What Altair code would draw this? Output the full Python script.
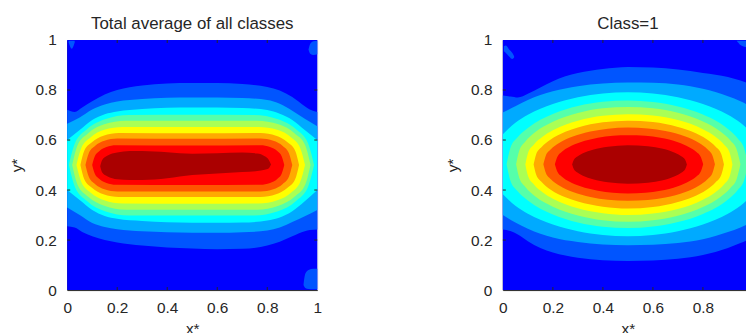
import altair as alt
import pandas as pd

FONT = "Liberation Sans"
TEXT = "#262626"
LEVEL_COLORS = ["#0000FF", "#0055FF", "#00AAFF", "#00FFFF", "#55FFAA", "#AAFF55",
                "#FFFF00", "#FFAA00", "#FF5500", "#FF0000", "#AA0000"]
TICK_VALUES = [0, 0.2, 0.4, 0.6, 0.8, 1]
INNER_TICKS = [0.2, 0.4, 0.6, 0.8]
TITLES = ["Total average of all classes", "Class=1"]

# ---------------- panel 1 : contour band boundaries (x*, upper y*, lower y*) ----------------
p1_L0_x = [0, 1]
p1_L0_top = [1, 1]
p1_L0_bot = [0, 0]

p1_L1_x = [0, 0.03, 0.06, 0.1, 0.15, 0.2, 0.3, 0.4, 0.5, 0.6, 0.7, 0.8, 0.85, 0.9, 0.95, 0.97, 1.0]
p1_L1_top = [0.721, 0.712, 0.73, 0.755, 0.782, 0.8, 0.818, 0.826, 0.828, 0.828, 0.824, 0.812, 0.798, 0.772, 0.735, 0.722, 0.712]
p1_L1_bot = [0.255, 0.25, 0.232, 0.215, 0.2, 0.19, 0.178, 0.17, 0.166, 0.163, 0.165, 0.178, 0.193, 0.215, 0.235, 0.24, 0.242]

p1_L2_x = [0, 0.05, 0.1, 0.15, 0.2, 0.3, 0.4, 0.5, 0.6, 0.7, 0.8, 0.85, 0.9, 0.95, 1.0]
p1_L2_top = [0.665, 0.69, 0.722, 0.742, 0.754, 0.764, 0.769, 0.77, 0.77, 0.768, 0.76, 0.745, 0.717, 0.685, 0.655]
p1_L2_bot = [0.33, 0.3, 0.268, 0.252, 0.243, 0.235, 0.231, 0.229, 0.229, 0.231, 0.238, 0.25, 0.272, 0.295, 0.32]

p1_L3_x = [0, 0.05, 0.1, 0.15, 0.2, 0.3, 0.4, 0.5, 0.6, 0.7, 0.8, 0.85, 0.9, 0.95, 1.0]
p1_L3_top = [0.6, 0.64, 0.68, 0.703, 0.714, 0.724, 0.729, 0.73, 0.73, 0.728, 0.72, 0.705, 0.68, 0.64, 0.6]
p1_L3_bot = [0.4, 0.36, 0.32, 0.296, 0.285, 0.276, 0.271, 0.269, 0.269, 0.27, 0.278, 0.29, 0.315, 0.355, 0.4]

p1_L4_x = [0.007, 0.031, 0.079, 0.151, 0.247, 0.5, 0.747, 0.843, 0.915, 0.963, 0.987]
p1_L4_top = [0.5, 0.587, 0.643, 0.683, 0.7, 0.701, 0.7, 0.683, 0.643, 0.587, 0.5]
p1_L4_bot = [0.5, 0.412, 0.356, 0.315, 0.298, 0.298, 0.298, 0.315, 0.356, 0.412, 0.5]

p1_L5_x = [0.02, 0.041, 0.084, 0.148, 0.234, 0.5, 0.759, 0.845, 0.909, 0.952, 0.973]
p1_L5_top = [0.5, 0.578, 0.627, 0.663, 0.677, 0.677, 0.677, 0.663, 0.627, 0.578, 0.5]
p1_L5_bot = [0.5, 0.422, 0.373, 0.337, 0.321, 0.321, 0.321, 0.337, 0.373, 0.422, 0.5]

p1_L6_x = [0.037, 0.056, 0.093, 0.148, 0.222, 0.5, 0.766, 0.84, 0.896, 0.932, 0.951]
p1_L6_top = [0.5, 0.567, 0.61, 0.641, 0.652, 0.652, 0.652, 0.641, 0.61, 0.567, 0.5]
p1_L6_bot = [0.5, 0.433, 0.39, 0.359, 0.346, 0.345, 0.346, 0.359, 0.39, 0.433, 0.5]

p1_L7_x = [0.053, 0.068, 0.099, 0.145, 0.207, 0.5, 0.773, 0.835, 0.881, 0.912, 0.927]
p1_L7_top = [0.5, 0.556, 0.591, 0.617, 0.628, 0.627, 0.628, 0.617, 0.591, 0.556, 0.5]
p1_L7_bot = [0.5, 0.444, 0.409, 0.383, 0.372, 0.372, 0.372, 0.383, 0.409, 0.444, 0.5]

p1_L8_x = [0.073, 0.086, 0.111, 0.149, 0.2, 0.5, 0.773, 0.824, 0.862, 0.887, 0.9]
p1_L8_top = [0.5, 0.546, 0.576, 0.597, 0.606, 0.605, 0.606, 0.597, 0.576, 0.546, 0.5]
p1_L8_bot = [0.5, 0.454, 0.424, 0.403, 0.394, 0.394, 0.394, 0.403, 0.424, 0.454, 0.5]

p1_L9_x = [0.1, 0.11, 0.129, 0.157, 0.195, 0.5, 0.773, 0.811, 0.84, 0.858, 0.868]
p1_L9_top = [0.5, 0.534, 0.556, 0.572, 0.579, 0.578, 0.579, 0.572, 0.556, 0.534, 0.5]
p1_L9_bot = [0.5, 0.466, 0.444, 0.428, 0.421, 0.42, 0.421, 0.428, 0.444, 0.466, 0.5]

p1_L10_x = [0.132, 0.14, 0.16, 0.2, 0.25, 0.3, 0.4, 0.5, 0.6, 0.7, 0.76, 0.79, 0.805, 0.815]
p1_L10_top = [0.495, 0.52, 0.537, 0.55, 0.556, 0.556, 0.551, 0.545, 0.547, 0.55, 0.546, 0.535, 0.522, 0.502]
p1_L10_bot = [0.495, 0.47, 0.455, 0.443, 0.44, 0.44, 0.447, 0.46, 0.466, 0.472, 0.476, 0.481, 0.486, 0.502]

# small level-1 islands near the corners
p1_B1_x = [0.965, 0.972, 0.985, 1.0]
p1_B1_top = [0.962, 0.985, 0.995, 0.997]
p1_B1_bot = [0.962, 0.945, 0.94, 0.943]
p1_B2_x = [0.945, 0.952, 0.965, 0.985, 1.0]
p1_B2_top = [0.02, 0.065, 0.08, 0.085, 0.085]
p1_B2_bot = [0.02, 0.008, 0.004, 0.003, 0.003]
p1_B3_x = [0.006, 0.018, 0.03]
p1_B3_top = [0.997, 0.997, 0.997]
p1_B3_bot = [0.99, 0.965, 0.99]

# ---------------- panel 2 ----------------
p2_L0_x = [0, 1]
p2_L0_top = [1, 1]
p2_L0_bot = [0, 0]

p2_L1_x = [0, 0.03, 0.06, 0.1, 0.15, 0.2, 0.25, 0.3, 0.4, 0.5, 0.6, 0.7, 0.8, 0.9, 0.95, 1.0]
p2_L1_top = [0.778, 0.774, 0.77, 0.785, 0.81, 0.835, 0.855, 0.868, 0.884, 0.892, 0.89, 0.882, 0.868, 0.852, 0.838, 0.82]
p2_L1_bot = [0.242, 0.236, 0.222, 0.195, 0.168, 0.15, 0.138, 0.129, 0.119, 0.116, 0.118, 0.125, 0.14, 0.168, 0.188, 0.21]

p2_L2_x = [0, 0.05, 0.1, 0.15, 0.2, 0.3, 0.4, 0.5, 0.6, 0.7, 0.8, 0.9, 0.95, 1.0]
p2_L2_top = [0.71, 0.735, 0.76, 0.78, 0.795, 0.815, 0.826, 0.83, 0.829, 0.822, 0.805, 0.775, 0.755, 0.73]
p2_L2_bot = [0.3, 0.27, 0.245, 0.225, 0.21, 0.192, 0.182, 0.179, 0.181, 0.188, 0.203, 0.232, 0.25, 0.275]

p2_L3_x = [0, 0.05, 0.1, 0.2, 0.3, 0.4, 0.5, 0.6, 0.7, 0.8, 0.9, 0.95, 1.0]
p2_L3_top = [0.623, 0.669, 0.701, 0.744, 0.771, 0.786, 0.791, 0.786, 0.771, 0.744, 0.701, 0.669, 0.623]
p2_L3_bot = [0.383, 0.337, 0.305, 0.262, 0.235, 0.22, 0.215, 0.22, 0.235, 0.262, 0.305, 0.337, 0.383]

p2_L4_x = [0.015, 0.03, 0.06, 0.1, 0.2, 0.3, 0.4, 0.5, 0.6, 0.7, 0.8, 0.9, 0.94, 0.965, 0.98]
p2_L4_top = [0.503, 0.568, 0.612, 0.648, 0.704, 0.736, 0.753, 0.758, 0.752, 0.734, 0.702, 0.644, 0.605, 0.566, 0.503]
p2_L4_bot = [0.503, 0.438, 0.394, 0.358, 0.302, 0.27, 0.253, 0.248, 0.254, 0.272, 0.304, 0.362, 0.401, 0.44, 0.503]

p2_L5_x = [0.053, 0.065, 0.09, 0.13, 0.2, 0.3, 0.4, 0.5, 0.6, 0.7, 0.8, 0.87, 0.91, 0.935, 0.95]
p2_L5_top = [0.503, 0.556, 0.594, 0.632, 0.673, 0.708, 0.727, 0.732, 0.727, 0.709, 0.674, 0.634, 0.598, 0.562, 0.503]
p2_L5_bot = [0.503, 0.45, 0.412, 0.374, 0.333, 0.298, 0.279, 0.273, 0.279, 0.297, 0.332, 0.372, 0.408, 0.444, 0.503]

p2_L6_x = [0.09, 0.1, 0.125, 0.16, 0.2, 0.3, 0.4, 0.5, 0.6, 0.7, 0.8, 0.85, 0.885, 0.908, 0.918]
p2_L6_top = [0.502, 0.546, 0.583, 0.614, 0.639, 0.677, 0.697, 0.703, 0.698, 0.68, 0.643, 0.613, 0.581, 0.546, 0.502]
p2_L6_bot = [0.502, 0.458, 0.421, 0.39, 0.365, 0.327, 0.307, 0.3, 0.306, 0.324, 0.361, 0.391, 0.423, 0.458, 0.502]

p2_L7_x = [0.123, 0.133, 0.155, 0.19, 0.25, 0.3, 0.4, 0.5, 0.6, 0.7, 0.76, 0.815, 0.85, 0.874, 0.884]
p2_L7_top = [0.502, 0.542, 0.572, 0.601, 0.633, 0.65, 0.671, 0.677, 0.672, 0.652, 0.632, 0.603, 0.574, 0.542, 0.502]
p2_L7_bot = [0.502, 0.462, 0.432, 0.402, 0.371, 0.354, 0.333, 0.326, 0.332, 0.352, 0.372, 0.401, 0.43, 0.462, 0.502]

p2_L8_x = [0.162, 0.172, 0.192, 0.225, 0.28, 0.35, 0.42, 0.5, 0.58, 0.65, 0.73, 0.785, 0.818, 0.838, 0.848]
p2_L8_top = [0.503, 0.538, 0.563, 0.588, 0.614, 0.634, 0.645, 0.65, 0.646, 0.636, 0.614, 0.588, 0.563, 0.538, 0.503]
p2_L8_bot = [0.503, 0.468, 0.443, 0.418, 0.392, 0.372, 0.361, 0.357, 0.36, 0.37, 0.392, 0.418, 0.443, 0.468, 0.503]

p2_L9_x = [0.208, 0.217, 0.235, 0.265, 0.31, 0.38, 0.44, 0.5, 0.57, 0.63, 0.7, 0.745, 0.774, 0.792, 0.801]
p2_L9_top = [0.503, 0.531, 0.552, 0.572, 0.591, 0.609, 0.617, 0.619, 0.617, 0.609, 0.591, 0.571, 0.552, 0.531, 0.503]
p2_L9_bot = [0.503, 0.475, 0.454, 0.434, 0.415, 0.397, 0.389, 0.386, 0.389, 0.397, 0.415, 0.435, 0.454, 0.475, 0.503]

p2_L10_x = [0.277, 0.284, 0.298, 0.32, 0.36, 0.42, 0.5, 0.58, 0.64, 0.69, 0.715, 0.729, 0.736]
p2_L10_top = [0.502, 0.521, 0.534, 0.547, 0.561, 0.573, 0.579, 0.575, 0.565, 0.548, 0.534, 0.521, 0.502]
p2_L10_bot = [0.502, 0.483, 0.47, 0.457, 0.443, 0.431, 0.425, 0.429, 0.439, 0.456, 0.47, 0.483, 0.502]

p2_B1_x = [0.004, 0.012, 0.025, 0.038, 0.045]
p2_B1_top = [0.975, 0.978, 0.962, 0.948, 0.935]
p2_B1_bot = [0.955, 0.948, 0.934, 0.924, 0.93]
p2_B2_x = [0.935, 0.95, 0.97, 1.0]
p2_B2_top = [0.997, 0.997, 0.997, 0.997]
p2_B2_bot = [0.997, 0.98, 0.972, 0.968]

P1_PIECES = [
    (0, p1_L0_x, p1_L0_top, p1_L0_bot),
    (1, p1_B1_x, p1_B1_top, p1_B1_bot),
    (1, p1_B2_x, p1_B2_top, p1_B2_bot),
    (1, p1_B3_x, p1_B3_top, p1_B3_bot),
    (1, p1_L1_x, p1_L1_top, p1_L1_bot),
    (2, p1_L2_x, p1_L2_top, p1_L2_bot),
    (3, p1_L3_x, p1_L3_top, p1_L3_bot),
    (4, p1_L4_x, p1_L4_top, p1_L4_bot),
    (5, p1_L5_x, p1_L5_top, p1_L5_bot),
    (6, p1_L6_x, p1_L6_top, p1_L6_bot),
    (7, p1_L7_x, p1_L7_top, p1_L7_bot),
    (8, p1_L8_x, p1_L8_top, p1_L8_bot),
    (9, p1_L9_x, p1_L9_top, p1_L9_bot),
    (10, p1_L10_x, p1_L10_top, p1_L10_bot),
]
P2_PIECES = [
    (0, p2_L0_x, p2_L0_top, p2_L0_bot),
    (1, p2_B1_x, p2_B1_top, p2_B1_bot),
    (1, p2_B2_x, p2_B2_top, p2_B2_bot),
    (1, p2_L1_x, p2_L1_top, p2_L1_bot),
    (2, p2_L2_x, p2_L2_top, p2_L2_bot),
    (3, p2_L3_x, p2_L3_top, p2_L3_bot),
    (4, p2_L4_x, p2_L4_top, p2_L4_bot),
    (5, p2_L5_x, p2_L5_top, p2_L5_bot),
    (6, p2_L6_x, p2_L6_top, p2_L6_bot),
    (7, p2_L7_x, p2_L7_top, p2_L7_bot),
    (8, p2_L8_x, p2_L8_top, p2_L8_bot),
    (9, p2_L9_x, p2_L9_top, p2_L9_bot),
    (10, p2_L10_x, p2_L10_top, p2_L10_bot),
]


def axis(title, pad, tpad):
    return alt.Axis(values=TICK_VALUES, format="~g", ticks=False, grid=False,
                    labelPadding=pad, labelFlush=False, labelFont=FONT,
                    labelFontSize=15.5, labelColor=TEXT, domainColor=TEXT,
                    domainWidth=1, title=title, titleFont=FONT, titleFontSize=15.5,
                    titleFontWeight="normal", titleColor=TEXT, titlePadding=tpad)


def panel(pieces, title):
    rows = []
    for pid, (lvl, xs, ts, bs) in enumerate(pieces):
        for x, t, b in zip(xs, ts, bs):
            rows.append({"piece": pid, "x": x, "top": t, "bot": b})
    df = pd.DataFrame(rows)
    xs_ = alt.Scale(domain=[0, 1], nice=False, zero=False)
    ys_ = alt.Scale(domain=[0, 1], nice=False, zero=False)
    xa = axis("x*", 11, 5)
    ya = axis("y*", 11, 10)
    layers = []
    for pid, (lvl, *_rest) in enumerate(pieces):
        layers.append(
            alt.Chart(df).transform_filter(alt.datum.piece == pid)
            .mark_area(color=LEVEL_COLORS[lvl], interpolate="monotone")
            .encode(x=alt.X("x:Q", scale=xs_, axis=xa),
                    y=alt.Y("top:Q", scale=ys_, axis=ya, stack=None),
                    y2="bot:Q")
        )
    tdf = pd.DataFrame({"t": INNER_TICKS})
    tl = 0.012
    rule = alt.Chart(tdf).mark_rule(color=TEXT, strokeWidth=1)
    layers += [
        rule.encode(x=alt.X("t:Q", scale=xs_, axis=xa), y=alt.datum(0), y2=alt.datum(tl)),
        rule.encode(x=alt.X("t:Q", scale=xs_, axis=xa), y=alt.datum(1), y2=alt.datum(1 - tl)),
        rule.encode(y=alt.Y("t:Q", scale=ys_, axis=ya), x=alt.datum(0), x2=alt.datum(tl)),
        rule.encode(y=alt.Y("t:Q", scale=ys_, axis=ya), x=alt.datum(1), x2=alt.datum(1 - tl)),
    ]
    return alt.layer(*layers).properties(
        width=252, height=252,
        title=alt.TitleParams(title, font=FONT, fontSize=17, fontWeight="normal",
                              color=TEXT, anchor="middle", offset=0),
    )


chart = alt.hconcat(panel(P1_PIECES, TITLES[0]), panel(P2_PIECES, TITLES[1]), spacing=123).properties(
    padding={"left": 8.7, "top": 13, "right": -12, "bottom": 0}
).configure_view(stroke=TEXT, strokeWidth=1).configure(background="white")

chart.save("out.html", embed_options={"renderer": "svg", "actions": False})
